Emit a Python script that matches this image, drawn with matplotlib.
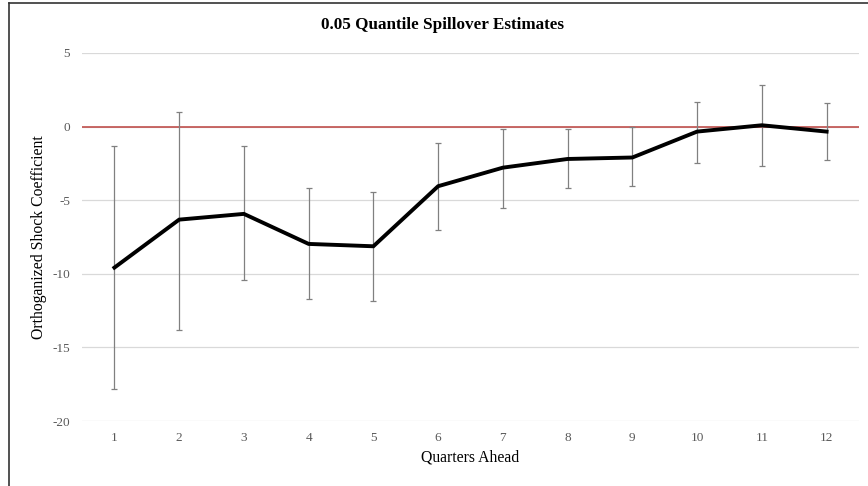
import numpy as np
from matplotlib import pyplot as plt
from matplotlib.lines import Line2D

# values
quarters = np.arange(1, 13)
estimate = [-9.58, -6.32, -5.93, -7.97, -8.13, -4.05, -2.79, -2.2, -2.1, -0.34, 0.09, -0.34]
upper = [-1.3, 1.0, -1.34, -4.17, -4.42, -1.09, -0.16, -0.16, -0.04, 1.7, 2.8, 1.58]
lower = [-17.8, -13.8, -10.4, -11.7, -11.87, -7.02, -5.5, -4.14, -4.05, -2.47, -2.7, -2.29]
yticks = [-20, -15, -10, -5, 0, 5]

plt.rcParams['font.family'] = ['Liberation Serif', 'DejaVu Serif']
plt.rcParams['axes.unicode_minus'] = False

fig = plt.figure(figsize=(8.68, 4.86), dpi=100)
ax = fig.add_axes([0.0945, 0.1337, 0.8951, 0.7573])

est = np.array(estimate)
err = np.vstack([est - np.array(lower), np.array(upper) - est])

ax.axhline(0, color='#c0504d', lw=1.2, zorder=2)
ax.errorbar(quarters, est, yerr=err, fmt='none', ecolor='#808080',
            elinewidth=0.9, capsize=2.5, capthick=0.9, zorder=3)
ax.plot(quarters, est, color='black', lw=2.8, solid_joinstyle='miter', zorder=4)

ax.set_xlim(0.5, 12.5)
ax.set_ylim(-20, 5)
ax.set_xticks(quarters)
ax.set_yticks(yticks)
ax.grid(axis='y', color='#d9d9d9', lw=0.9, zorder=0)
ax.set_axisbelow(True)
for s in ax.spines.values():
    s.set_visible(False)
ax.tick_params(length=0, labelsize=9.5, labelcolor='#595959')
ax.tick_params(axis='y', pad=8.6)
ax.tick_params(axis='x', pad=8)

ax.set_xlabel('Quarters Ahead', fontsize=11.3, labelpad=4)
ax.set_ylabel('Orthoganized Shock Coefficient', fontsize=11.3, labelpad=4)
fig.text(0.51, 0.949, '0.05 Quantile Spillover Estimates', ha='center', va='center',
         fontsize=12.3, fontweight='bold')

# outer frame (only left and top edges are visible in the reference)
fig.add_artist(Line2D([0.0105, 0.0105], [0, 0.994], color='#333333', lw=1.2))
fig.add_artist(Line2D([0.0105, 1.0], [0.994, 0.994], color='#333333', lw=1.2))

fig.savefig('out.png', dpi=100)
